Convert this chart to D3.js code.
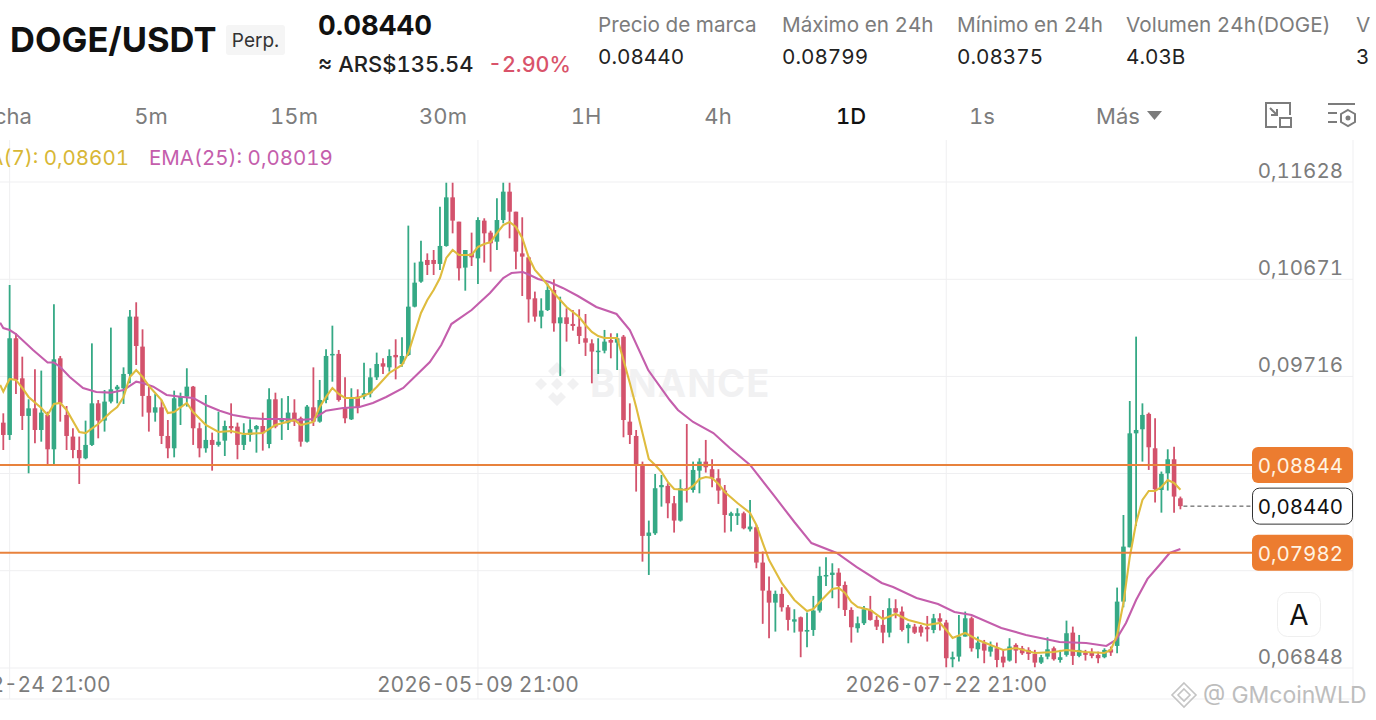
<!DOCTYPE html>
<html>
<head>
<meta charset="utf-8">
<script src="https://cdn.jsdelivr.net/npm/d3@7"></script>
<style>
html, body { margin: 0; padding: 0; background: #fff; overflow: hidden; }
svg { display: block; font-family: Inter, "Noto Sans", sans-serif; font-variant-numeric: tabular-nums; }
</style>
</head>
<body>
<script>
// daily candles
const open = [
0.09261,0.09140,0.10091,0.09697,0.09327,0.09402,0.09189,0.09337,0.08999,0.09894,
0.09337,0.09124,0.08992,0.08911,0.09042,0.09451,0.09281,0.09468,0.09589,0.09599,
0.09740,0.10304,0.10009,0.09524,0.09360,0.09412,0.09130,0.09009,0.09419,0.09517,
0.09615,0.09206,0.09009,0.09091,0.09042,0.09084,0.09228,0.09222,0.09042,0.09140,
0.09196,0.09228,0.09051,0.09491,0.09271,0.09255,0.09360,0.09304,0.09074,0.09412,
0.09271,0.09484,0.09927,0.09937,0.09412,0.09294,0.09517,0.09517,0.09550,0.09707,
0.09845,0.09805,0.09927,0.09838,0.09927,0.10402,0.10648,0.10861,0.10861,0.10822,
0.10999,0.11477,0.11238,0.10786,0.10926,0.10877,0.11248,0.11130,0.11041,0.11254,
0.11533,0.11336,0.10926,0.10887,0.10484,0.10304,0.10369,0.10566,0.10238,0.10297,
0.10232,0.10205,0.10091,0.10041,0.09960,0.09969,0.10074,0.10048,0.10107,0.09271,
0.09130,0.08845,0.08147,0.08173,0.08626,0.08639,0.08468,0.08298,0.08616,0.08599,
0.08789,0.08878,0.08803,0.08714,0.08593,0.08344,0.08344,0.08370,0.08212,0.08232,
0.07885,0.07609,0.07491,0.07577,0.07445,0.07304,0.07347,0.07206,0.07222,0.07413,
0.07754,0.07763,0.07786,0.07665,0.07419,0.07239,0.07288,0.07419,0.07321,0.07272,
0.07196,0.07436,0.07403,0.07239,0.07255,0.07255,0.07249,0.07222,0.07337,0.07295,
0.06934,0.06960,0.07157,0.07337,0.07032,0.07091,0.07009,0.07042,0.06960,0.06921,
0.07075,0.07042,0.07026,0.06986,0.06901,0.06960,0.07042,0.06927,0.06977,0.07196,
0.06967,0.07000,0.07000,0.06977,0.06954,0.07032,0.07065,0.07501,0.08035,0.09156,
0.09196,0.09347,0.09009,0.08599,0.08763,0.08901,0.08517];
const high = [
0.09353,0.10615,0.10140,0.09910,0.09491,0.09786,0.09773,0.09369,0.10425,0.09917,
0.09425,0.09206,0.09124,0.09281,0.10041,0.09484,0.09582,0.10196,0.09632,0.09805,
0.10369,0.10445,0.10179,0.09615,0.09543,0.09484,0.09287,0.09576,0.09556,0.09796,
0.09622,0.09261,0.09533,0.09163,0.09369,0.09281,0.09451,0.09261,0.09255,0.09294,
0.09238,0.09360,0.09599,0.09556,0.09501,0.09524,0.09491,0.09320,0.09435,0.09805,
0.09681,0.09982,0.10215,0.09976,0.09707,0.09599,0.09589,0.09851,0.09796,0.09950,
0.09894,0.09982,0.10081,0.10100,0.11199,0.10835,0.11051,0.10926,0.10959,0.11385,
0.11621,0.11621,0.11238,0.10959,0.11130,0.11281,0.11271,0.11149,0.11467,0.11621,
0.11621,0.11336,0.11281,0.10894,0.10550,0.10484,0.10631,0.10671,0.10500,0.10386,
0.10369,0.10376,0.10330,0.10081,0.10091,0.10173,0.10140,0.10140,0.10123,0.09451,
0.09189,0.08878,0.08298,0.08756,0.08747,0.08665,0.08540,0.08704,0.09248,0.08878,
0.08911,0.09091,0.08901,0.08803,0.08648,0.08386,0.08419,0.08386,0.08501,0.08255,
0.07993,0.07747,0.07609,0.07642,0.07468,0.07426,0.07354,0.07393,0.07557,0.07845,
0.07937,0.07878,0.07829,0.07698,0.07445,0.07354,0.07459,0.07557,0.07360,0.07419,
0.07534,0.07524,0.07452,0.07288,0.07282,0.07272,0.07360,0.07380,0.07386,0.07321,
0.07009,0.07370,0.07403,0.07354,0.07157,0.07124,0.07108,0.07098,0.07026,0.07141,
0.07091,0.07065,0.07052,0.07026,0.06977,0.07150,0.07059,0.07026,0.07314,0.07255,
0.07173,0.07026,0.07042,0.07009,0.07042,0.07059,0.07639,0.08353,0.09474,0.10107,
0.09451,0.09360,0.09304,0.08780,0.08999,0.09025,0.08534];
const low = [
0.08992,0.09091,0.09543,0.09189,0.08763,0.09058,0.09074,0.08835,0.08845,0.09271,
0.08992,0.08911,0.08658,0.08901,0.09032,0.09107,0.09173,0.09451,0.09451,0.09445,
0.09648,0.09828,0.09320,0.09173,0.09271,0.09051,0.08911,0.08920,0.09238,0.09419,
0.09042,0.08920,0.08966,0.08789,0.09025,0.08933,0.09156,0.08901,0.08992,0.09074,
0.08966,0.08986,0.09009,0.09206,0.09091,0.09189,0.09228,0.09025,0.09065,0.09228,
0.09261,0.09451,0.09664,0.09468,0.09255,0.09287,0.09353,0.09491,0.09510,0.09681,
0.09740,0.09763,0.09687,0.09812,0.09917,0.10395,0.10638,0.10713,0.10713,0.10763,
0.10992,0.11123,0.10658,0.10559,0.10802,0.10625,0.10835,0.10746,0.10959,0.11222,
0.11074,0.10769,0.10507,0.10245,0.10255,0.10189,0.10359,0.10156,0.09720,0.10058,
0.10166,0.10035,0.09917,0.09648,0.09740,0.09943,0.09894,0.09779,0.09117,0.09051,
0.08583,0.07894,0.07763,0.08157,0.08435,0.08321,0.08180,0.08288,0.08475,0.08573,
0.08566,0.08770,0.08626,0.08462,0.08180,0.08190,0.08255,0.08212,0.08190,0.07829,
0.07282,0.07141,0.07206,0.07403,0.07216,0.07196,0.06954,0.07052,0.07164,0.07393,
0.07655,0.07534,0.07436,0.07360,0.07098,0.07196,0.07272,0.07314,0.07222,0.07091,
0.07150,0.07337,0.07206,0.07091,0.07183,0.07157,0.07108,0.07190,0.07216,0.06855,
0.06855,0.06911,0.07157,0.07009,0.06944,0.06895,0.06960,0.06855,0.06855,0.06911,
0.06895,0.06977,0.06927,0.06855,0.06888,0.06934,0.06921,0.06901,0.06960,0.06878,
0.06954,0.06921,0.06944,0.06895,0.06944,0.06967,0.06993,0.07445,0.08035,0.08245,
0.08878,0.08796,0.08475,0.08376,0.08593,0.08376,0.08409];
const close = [
0.09140,0.10091,0.09681,0.09327,0.09402,0.09189,0.09360,0.08999,0.09884,0.09451,
0.09130,0.08992,0.08911,0.09042,0.09451,0.09281,0.09468,0.09589,0.09615,0.09740,
0.10304,0.10015,0.09524,0.09360,0.09412,0.09130,0.09009,0.09501,0.09517,0.09615,
0.09206,0.09009,0.09091,0.09042,0.09074,0.09228,0.09206,0.09042,0.09140,0.09196,
0.09228,0.09156,0.09491,0.09222,0.09304,0.09360,0.09271,0.09074,0.09419,0.09271,
0.09484,0.09917,0.09937,0.09484,0.09304,0.09510,0.09412,0.09550,0.09707,0.09838,
0.09812,0.09917,0.09904,0.09917,0.10402,0.10638,0.10845,0.10812,0.10822,0.10999,
0.11477,0.11248,0.10779,0.10959,0.10887,0.11254,0.11123,0.11025,0.11254,0.11533,
0.11336,0.10943,0.10894,0.10474,0.10304,0.10363,0.10566,0.10238,0.10297,0.10232,
0.10212,0.10114,0.10048,0.09960,0.09969,0.10058,0.10048,0.10091,0.09287,0.09140,
0.08845,0.08147,0.08180,0.08616,0.08648,0.08468,0.08298,0.08616,0.08599,0.08796,
0.08878,0.08822,0.08714,0.08593,0.08353,0.08370,0.08370,0.08222,0.08239,0.07885,
0.07609,0.07491,0.07577,0.07445,0.07321,0.07327,0.07206,0.07222,0.07413,0.07754,
0.07763,0.07786,0.07655,0.07419,0.07249,0.07288,0.07426,0.07321,0.07255,0.07196,
0.07436,0.07393,0.07222,0.07272,0.07196,0.07196,0.07229,0.07337,0.07304,0.06944,
0.06954,0.07157,0.07337,0.07042,0.07098,0.07019,0.07059,0.06927,0.06901,0.07059,
0.07019,0.06993,0.06986,0.06901,0.06954,0.07032,0.06934,0.06954,0.07190,0.06967,
0.07026,0.06977,0.06967,0.06944,0.07026,0.07000,0.07501,0.08042,0.09156,0.09189,
0.09337,0.09019,0.08606,0.08757,0.08901,0.08534,0.08440];

// MA(7), read at the candles where the line bends
const ma7Index = [-0.5,0,1,2,3,4,6,7,8,9,10,12,13,15,17,18,19,20,21,22,23,24,25,26,27,29,30,32,34,36,38,41,43,46,47,49,50,51,52,53,54,56,58,59,61,63,64,65,66,67,68,69,70,71,72,74,75,76,77,78,79,80,81,82,83,84,85,86,87,88,89,91,92,93,94,95,97,98,99,100,101,102,103,104,105,106,108,109,110,111,112,113,114,116,118,119,120,121,123,125,127,128,129,131,132,133,134,135,137,139,141,143,146,148,149,150,152,154,156,158,160,163,166,168,171,174,175,176,177,178,179,180,181,182,183,184,185,186];
const ma7 = [0.09632,0.09566,0.09691,0.09681,0.09602,0.09514,0.09405,0.09336,0.09445,0.09455,0.09386,0.09169,0.09159,0.09248,0.09366,0.09415,0.09514,0.09710,0.09779,0.09710,0.09622,0.09553,0.09484,0.09356,0.09366,0.09455,0.09366,0.09238,0.09169,0.09179,0.09150,0.09159,0.09238,0.09287,0.09238,0.09268,0.09415,0.09514,0.09602,0.09543,0.09504,0.09504,0.09553,0.09612,0.09750,0.09828,0.09946,0.10143,0.10340,0.10467,0.10566,0.10684,0.10881,0.10959,0.10910,0.10910,0.10989,0.11018,0.11038,0.11126,0.11205,0.11235,0.11185,0.11077,0.10890,0.10763,0.10694,0.10615,0.10536,0.10467,0.10399,0.10300,0.10222,0.10153,0.10113,0.10094,0.10094,0.09877,0.09651,0.09415,0.09159,0.08904,0.08845,0.08776,0.08678,0.08609,0.08599,0.08638,0.08707,0.08727,0.08717,0.08658,0.08579,0.08471,0.08373,0.08255,0.08078,0.07910,0.07684,0.07517,0.07409,0.07428,0.07497,0.07625,0.07635,0.07586,0.07497,0.07448,0.07419,0.07330,0.07379,0.07320,0.07271,0.07291,0.07222,0.07143,0.07192,0.07124,0.07074,0.07025,0.07045,0.06996,0.07006,0.07025,0.07006,0.06996,0.07025,0.07173,0.07488,0.07940,0.08274,0.08501,0.08589,0.08589,0.08628,0.08697,0.08668,0.08601];

// EMA(25)
const ema25Index = [-0.5,0,1,2,4.7,7,8,9,10.5,12.6,14.7,17,19,21,22,23.7,25.8,28,30,32,34.2,36.3,39,41,44.2,46.8,49,51,53.7,56.3,58.4,60.5,63.2,65.3,67.4,69.2,70.8,74,76.9,79,80.3,82.1,83.2,84.5,86.3,88.4,90.8,93.7,96.9,99,101.9,105.3,106.6,109,112.2,114.8,118,121.7,125,127.7,131.7,134.8,138.8,140.6,144.3,147.7,150.3,153,157.7,161.6,166.9,171.1,174.3,175.8,177.4,179,180.8,182.7,184.3,186];
const ema25 = [0.10244,0.10192,0.10172,0.10133,0.09976,0.09852,0.09852,0.09809,0.09710,0.09602,0.09563,0.09556,0.09582,0.09664,0.09651,0.09615,0.09533,0.09516,0.09504,0.09435,0.09379,0.09336,0.09307,0.09297,0.09297,0.09287,0.09297,0.09379,0.09405,0.09415,0.09455,0.09514,0.09602,0.09730,0.09858,0.10025,0.10231,0.10369,0.10536,0.10684,0.10733,0.10743,0.10713,0.10674,0.10645,0.10586,0.10507,0.10399,0.10330,0.10172,0.09779,0.09484,0.09386,0.09268,0.09159,0.09012,0.08845,0.08550,0.08284,0.08077,0.07979,0.07842,0.07684,0.07645,0.07537,0.07478,0.07399,0.07369,0.07242,0.07173,0.07104,0.07094,0.07065,0.07124,0.07291,0.07517,0.07724,0.07861,0.07979,0.08019];

const yTicks = [0.11628,0.10671,0.09716,0.08761,0.07805,0.06848];
const yLabels = [0.11628,0.10671,0.09716,0.06848];
const hLines = [0.08844,0.07982];
const lastPrice = 0.08440;
const xTickIndex = [1,75,149];
const xTickLabels = ["2026-02-24 21:00","2026-05-09 21:00","2026-07-22 21:00"];

const tabs = ["cha","5m","15m","30m","1H","4h","1D","1s","Más"];
const tabX = [13,151,294,443,586,718,851,982,1118];
const statLabels = ["Precio de marca","Máximo en 24h","Mínimo en 24h","Volumen 24h(DOGE)","V"];
const statValues = ["0.08440","0.08799","0.08375","4.03B","3"];
const statX = [598,782,957,1126,1356];

const GREEN = "#35A985", RED = "#D3526C", ORANGE = "#EC7C30";
const GRAY = "#7C7C7C";
const fmt = d => d.toFixed(5).replace(".", ",");

const svg = d3.select("body").append("svg").attr("width", 1376).attr("height", 720);

const x = d3.scaleLinear().domain([0, 186]).range([3.3, 1180.4]);
const y = d3.scaleLinear().domain([0.06848, 0.11628]).range([668, 182]);

// grid
const grid = svg.append("g").attr("stroke", "#EFEFF1").attr("stroke-width", 1);
grid.selectAll(".h").data(yTicks).enter().append("line")
    .attr("x1", 0).attr("x2", 1353).attr("y1", d => y(d)).attr("y2", d => y(d));
grid.selectAll(".v").data(xTickIndex).enter().append("line")
    .attr("x1", d => x(d)).attr("x2", d => x(d)).attr("y1", 140).attr("y2", 699);
grid.append("line").attr("x1", 1353).attr("x2", 1353).attr("y1", 140).attr("y2", 699);
grid.append("line").attr("x1", 0).attr("x2", 1353).attr("y1", 699).attr("y2", 699);

// watermark in the middle
const wm = svg.append("g").attr("fill", "#F1F1F2");
wm.append("g").attr("transform", "translate(557,384)")
  .selectAll("path").data([
    "M0,-22 L9,-13 L4,-8 L0,-12 L-4,-8 L-9,-13 Z",
    "M0,22 L9,13 L4,8 L0,12 L-4,8 L-9,13 Z",
    "M-22,0 L-16,-6 L-10,0 L-16,6 Z",
    "M22,0 L16,-6 L10,0 L16,6 Z",
    "M0,-6 L6,0 L0,6 L-6,0 Z"])
  .enter().append("path").attr("d", d => d);
wm.append("text").attr("x", 590).attr("y", 397).attr("font-size", 38).attr("font-weight", 700)
    .attr("letter-spacing", 1).text("BINANCE");

// candles
const idx = d3.range(open.length);
const candles = svg.append("g");
candles.selectAll(".wick").data(idx).enter().append("line")
    .attr("x1", i => x(i)).attr("x2", i => x(i))
    .attr("y1", i => y(high[i])).attr("y2", i => y(low[i]))
    .attr("stroke", i => close[i] >= open[i] ? GREEN : RED)
    .attr("stroke-width", 1.8);
candles.selectAll(".body").data(idx).enter().append("rect")
    .attr("x", i => x(i) - 2.3).attr("width", 4.6)
    .attr("y", i => y(Math.max(open[i], close[i])))
    .attr("height", i => Math.max(1.5, Math.abs(y(open[i]) - y(close[i]))))
    .attr("fill", i => close[i] >= open[i] ? GREEN : RED);

// indicator lines
const line = d3.line().x(d => x(d[0])).y(d => y(d[1]));
svg.append("path").datum(d3.zip(ema25Index, ema25)).attr("d", line)
    .attr("fill", "none").attr("stroke", "#C45EAC").attr("stroke-width", 2.1);
svg.append("path").datum(d3.zip(ma7Index, ma7)).attr("d", line)
    .attr("fill", "none").attr("stroke", "#DFBC3E").attr("stroke-width", 2.1);

// y labels, the 0,08761 and 0,07805 ones sit behind the tags in the picture
svg.append("g").attr("font-size", 20.5).attr("fill", GRAY).attr("text-anchor", "end")
  .selectAll("text").data(yLabels).enter().append("text")
    .attr("x", 1343).attr("y", d => y(d) - 4.5).text(fmt);

// x labels
svg.append("g").attr("font-size", 21).attr("fill", GRAY).attr("text-anchor", "middle")
  .selectAll("text").data(xTickIndex).enter().append("text")
    .attr("x", d => x(d)).attr("y", 692).text((d, i) => xTickLabels[i]);

// horizontal price lines + tags
svg.append("g").selectAll("line").data(hLines).enter().append("line")
    .attr("x1", 0).attr("x2", 1254).attr("y1", d => y(d)).attr("y2", d => y(d))
    .attr("stroke", "#E8823C").attr("stroke-width", 2);
svg.append("g").selectAll("rect").data(hLines).enter().append("rect")
    .attr("x", 1252).attr("y", d => y(d) - 18).attr("width", 101).attr("height", 36)
    .attr("rx", 6).attr("fill", ORANGE);
svg.append("g").attr("font-size", 20.5).attr("fill", "#FFF3E2").attr("text-anchor", "end")
  .selectAll("text").data(hLines).enter().append("text")
    .attr("x", 1343).attr("y", d => y(d) + 8).text(fmt);

// current price
svg.append("line").attr("x1", x(186) + 3).attr("x2", 1252)
    .attr("y1", y(lastPrice)).attr("y2", y(lastPrice))
    .attr("stroke", "#444").attr("stroke-dasharray", "4 3").attr("stroke-width", 1);
svg.append("rect").attr("x", 1252.5).attr("y", y(lastPrice) - 18).attr("width", 100).attr("height", 36)
    .attr("rx", 7).attr("fill", "#fff").attr("stroke", "#333");
svg.append("text").attr("x", 1343).attr("y", y(lastPrice) + 8).attr("font-size", 20.5)
    .attr("text-anchor", "end").attr("fill", "#111").text(fmt(lastPrice));

// A button
svg.append("rect").attr("x", 1277.5).attr("y", 592.5).attr("width", 43).attr("height", 44)
    .attr("rx", 10).attr("fill", "#fff").attr("stroke", "#EFEFEF");
svg.append("text").attr("x", 1299).attr("y", 625).attr("font-size", 28).attr("text-anchor", "middle")
    .attr("fill", "#111").text("A");

// legend
svg.append("text").attr("x", 129).attr("y", 165).attr("font-size", 20.5).attr("text-anchor", "end")
    .attr("fill", "#D8B735").text("A(7): 0,08601");
svg.append("text").attr("x", 149).attr("y", 165).attr("font-size", 20.5)
    .attr("fill", "#C45EAC").text("EMA(25): 0,08019");

// header
svg.append("text").attr("x", 10).attr("y", 52).attr("font-size", 34.5).attr("font-weight", 700)
    .attr("fill", "#111").text("DOGE/USDT");
svg.append("rect").attr("x", 226).attr("y", 25).attr("width", 59).attr("height", 30)
    .attr("rx", 3).attr("fill", "#F5F5F5");
svg.append("text").attr("x", 255.5).attr("y", 47).attr("font-size", 19).attr("text-anchor", "middle")
    .attr("fill", "#333").text("Perp.");
svg.append("text").attr("x", 318).attr("y", 35).attr("font-size", 27.5).attr("font-weight", 700)
    .attr("fill", "#111").text("0.08440");
svg.append("text").attr("x", 318).attr("y", 72).attr("font-size", 22).attr("font-weight", 500)
    .attr("fill", "#222").text("≈ ARS$135.54");
svg.append("text").attr("x", 488).attr("y", 72).attr("font-size", 21.5).attr("font-weight", 500)
    .attr("fill", "#D9536A").text("-2.90%");

const stats = svg.append("g").attr("font-size", 20.7);
stats.selectAll(".l").data(statLabels).enter().append("text")
    .attr("x", (d, i) => statX[i]).attr("y", 32).attr("fill", GRAY).text(d => d);
stats.selectAll(".v").data(statValues).enter().append("text")
    .attr("x", (d, i) => statX[i]).attr("y", 64).attr("fill", "#222").text(d => d);

// interval tabs
svg.append("g").attr("font-size", 22).attr("text-anchor", "middle")
  .selectAll("text").data(tabs).enter().append("text")
    .attr("x", (d, i) => tabX[i]).attr("y", 124)
    .attr("font-weight", d => d == "1D" ? 500 : 400)
    .attr("fill", d => d == "1D" ? "#111" : GRAY).text(d => d);
svg.append("path").attr("d", "M1147,111 L1162,111 L1154.5,120 Z").attr("fill", GRAY);

// toolbar icons
const ic = svg.append("g").attr("fill", "none").attr("stroke", GRAY).attr("stroke-width", 2);
ic.append("path").attr("d", "M1277,127 L1266,127 L1266,103 L1290,103 L1290,115");
ic.append("rect").attr("x", 1280).attr("y", 118).attr("width", 11).attr("height", 9);
ic.append("path").attr("d", "M1270,108 L1277,115 M1277,109 L1277,115 L1271,115");
ic.append("path").attr("d", "M1328,104 L1355,104 M1328,113 L1337,113 M1328,122 L1337,122");
ic.append("path").attr("d", "M1348,110 L1355,114 L1355,122 L1348,126 L1341,122 L1341,114 Z");
ic.append("circle").attr("cx", 1348).attr("cy", 118).attr("r", 1.5).attr("fill", GRAY);

// corner watermark
const cw = svg.append("g").attr("fill", "none").attr("stroke", "#C4C4C4").attr("stroke-width", 1.6);
cw.append("path").attr("d", "M1184,683 L1196,695 L1184,707 L1172,695 Z");
cw.append("path").attr("d", "M1184,689 L1190,695 L1184,701 L1178,695 Z");
svg.append("text").attr("x", 1203).attr("y", 703).attr("font-size", 23).attr("fill", "#BDBDBD")
    .text("@ GMcoinWLD");
</script>
</body>
</html>
